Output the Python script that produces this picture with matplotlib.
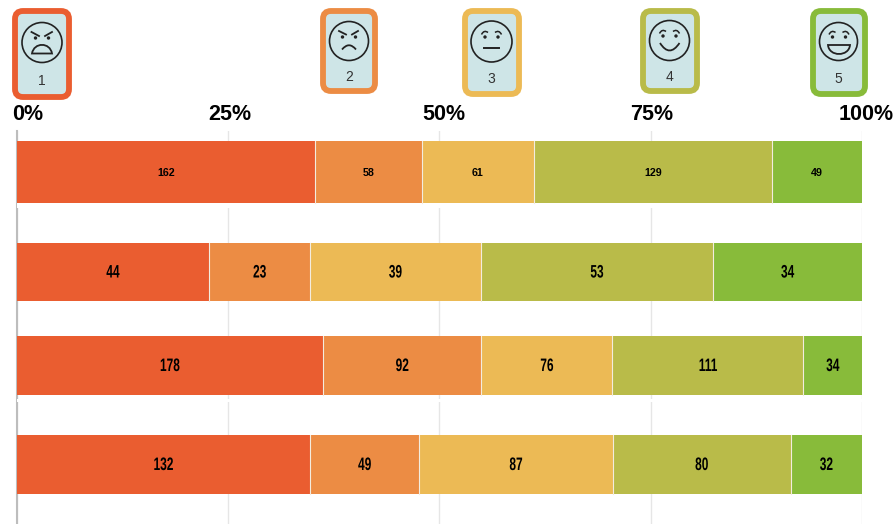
import matplotlib
matplotlib.use("Agg")
import matplotlib.pyplot as plt
import numpy as np
from matplotlib.patches import Circle, FancyBboxPatch, PathPatch
from matplotlib.path import Path
from matplotlib.patheffects import AbstractPathEffect
from matplotlib.transforms import Affine2D

# valores por fila (de arriba abajo), una lista por cada nota
nota_1 = [162, 44, 178, 132]
nota_2 = [58, 23, 92, 49]
nota_3 = [61, 39, 76, 87]
nota_4 = [129, 53, 111, 80]
nota_5 = [49, 34, 34, 32]
series = [nota_1, nota_2, nota_3, nota_4, nota_5]
colores = ["#ea5d30", "#ec8c44", "#ecba55", "#b9bb49", "#88bb3a"]
ticks = [0, 25, 50, 75, 100]
tick_labels = ["0%", "25%", "50%", "75%", "100%"]
notas = ["1", "2", "3", "4", "5"]

# posicion de las filas en pixeles: (arriba, abajo)
filas = [(141, 203.5), (243, 301), (336, 395), (435, 494)]
tick_x_px = [28, 230, 444, 652, 866]
# tarjetas: x0, y0, x1, y1, centro de la cara, radio, y del numero
tarjetas = [
    (12, 8, 72, 100, 42, 42.5, 20, 81),
    (320, 8, 378, 94, 349, 41, 19.5, 77),
    (462, 8, 522, 97, 491.5, 41.5, 20.5, 79),
    (640, 8, 700, 94, 669.5, 40.5, 20, 77),
    (810, 8, 868, 97, 838.5, 41.5, 19, 79),
]


class Estrecho(AbstractPathEffect):
    # comprime el texto en horizontal, el original usa una letra condensada
    def __init__(self, sx):
        super().__init__()
        self.sx = sx

    def draw_path(self, renderer, gc, tpath, affine, rgbFace=None):
        c = tpath.get_extents().x0 + tpath.get_extents().width / 2
        t = Affine2D().translate(-c, 0).scale(self.sx, 1).translate(c, 0)
        gc.set_linewidth(0)
        renderer.draw_path(gc, tpath, t + affine, rgbFace)


plt.rcParams["font.family"] = ["Liberation Sans", "DejaVu Sans"]
fig = plt.figure(figsize=(8.96, 5.24), dpi=100)
ax = fig.add_axes([16.5 / 896, 0, 845.5 / 896, (524 - 131) / 524])
ax.set_xlim(0, 100)
ax.set_ylim(524, 131)

datos = np.array(series, dtype=float)
pct = datos / datos.sum(axis=0) * 100
izq = np.zeros(len(filas))
centros = [(a + b) / 2 for a, b in filas]
altos = [b - a for a, b in filas]
for i, fila_pct in enumerate(pct):
    ax.barh(centros, fila_pct, height=altos, left=izq, color=colores[i],
            edgecolor="none", zorder=3, clip_on=False)
    # separador claro entre tramos
    if i < len(pct) - 1:
        for y0, y1, x in zip([a for a, b in filas], [b for a, b in filas], izq + fila_pct):
            ax.plot([x, x], [y0, y1], color="#f3ecdf", lw=0.8, zorder=3.5)
    for j, p in enumerate(fila_pct):
        if j == 0:
            ax.text(izq[j] + p / 2, centros[j] + 0.5, str(series[i][j]), ha="center",
                    va="center", fontsize=7.7, fontweight="bold", zorder=4)
        else:
            ax.text(izq[j] + p / 2, centros[j] + 1, str(series[i][j]), ha="center",
                    va="center", fontsize=13, fontweight="bold", zorder=4,
                    path_effects=[Estrecho(0.66)])
    izq += fila_pct

# rejilla
ax.set_xticks(ticks)
ax.set_yticks([])
ax.tick_params(length=0, labelbottom=False)
ax.grid(axis="x", color="#e6e6e6", linewidth=1, zorder=0)
ax.set_axisbelow(True)
for s in ["top", "right", "bottom"]:
    ax.spines[s].set_visible(False)
ax.spines["left"].set_color("#bdbdbd")
ax.spines["left"].set_linewidth(1.5)
ax.spines["left"].set_zorder(1)
# huecos blancos junto a las barras
ax.axhspan(203.5, 208, color="white", zorder=2, lw=0)
ax.axhspan(399, 402, color="white", zorder=2, lw=0)

# capa en pixeles para tarjetas y etiquetas
top = fig.add_axes([0, 0, 1, 1], facecolor="none")
top.set_xlim(0, 896)
top.set_ylim(524, 0)
top.axis("off")

for lab, x in zip(tick_labels, tick_x_px):
    top.text(x, 115, lab, ha="center", va="center", fontsize=15.5,
             fontweight="bold", color="black")

negro = "#222222"


def curva(p0, ctrl, p1, cerrar=False, lw=1.3):
    verts = [p0, ctrl, p1]
    codes = [Path.MOVETO, Path.CURVE3, Path.CURVE3]
    if cerrar:
        verts.append(p0)
        codes.append(Path.CLOSEPOLY)
    top.add_patch(PathPatch(Path(verts, codes), fill=False, edgecolor=negro, lw=lw))


def boca_cerrada(p0, c0, c1, p1):
    # boca abierta: curva cubica y linea recta de vuelta
    verts = [p0, c0, c1, p1, p0]
    codes = [Path.MOVETO, Path.CURVE4, Path.CURVE4, Path.CURVE4, Path.CLOSEPOLY]
    top.add_patch(PathPatch(Path(verts, codes), fill=False, edgecolor=negro, lw=1.3))


def ojos(cx, y, d):
    for sig in (-1, 1):
        top.add_patch(Circle((cx + sig * d, y), 1.7, color=negro, lw=0))


def cejas_arco(cx, y, d):
    for sig in (-1, 1):
        curva((cx + sig * (d + 3.5), y + 2.5), (cx + sig * (d + 1), y - 2.5),
              (cx + sig * (d - 3), y + 0.5), lw=1.1)


for (x0, y0, x1, y1, cx, cy, r, yn), color, n in zip(tarjetas, colores, notas):
    top.add_patch(FancyBboxPatch((x0 + 11, y0 + 11), x1 - x0 - 22, y1 - y0 - 22,
                                 boxstyle="round,pad=8,rounding_size=8",
                                 facecolor="#cee5e7", edgecolor=color, lw=4.2))
    top.add_patch(Circle((cx, cy), r, fill=False, edgecolor=negro, lw=1.2))
    top.text(cx, yn, n, ha="center", va="center", fontsize=10, color="#333333")

# caras, una por una
ojos(42, 38, 6.5)
top.plot([31.5, 39], [32, 36], color=negro, lw=1.3)
top.plot([45, 52], [36, 32], color=negro, lw=1.3)
boca_cerrada((32, 53.5), (34, 42), (50, 42), (52, 53.5))

ojos(349, 37, 6.5)
top.plot([339, 346], [31, 34.5], color=negro, lw=1.3)
top.plot([352, 358], [34.5, 31], color=negro, lw=1.3)
curva((342, 49.5), (349, 41), (356, 49.5))

ojos(491.5, 37, 6.5)
cejas_arco(491.5, 32, 6.5)
top.plot([483.5, 499], [48, 48], color=negro, lw=1.4)

ojos(669.5, 36, 6.5)
cejas_arco(669.5, 31, 6.5)
curva((660, 43), (669.5, 58), (679.5, 43))

ojos(839, 37, 6.5)
cejas_arco(839, 32, 6.5)
boca_cerrada((828, 45), (829, 57), (849, 57), (850, 45))

fig.savefig("out.png", dpi=100)
